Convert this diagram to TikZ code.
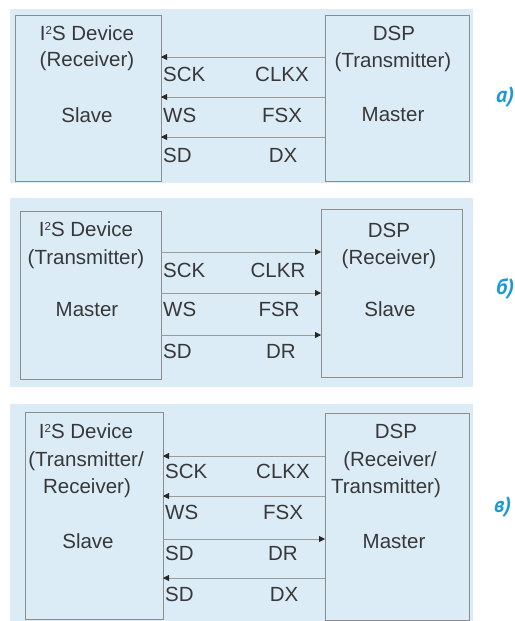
\documentclass[tikz,border=0pt]{standalone}
\usepackage{fontspec}
\setmainfont{Liberation Sans}
\newfontfamily\labfont{PT Sans}
\usetikzlibrary{arrows.meta}
\definecolor{panelbg}{HTML}{DBECF7}
\definecolor{boxline}{HTML}{8C8C8C}
\definecolor{sigline}{HTML}{9A9A9A}
\definecolor{txt}{HTML}{383838}
\definecolor{labblue}{HTML}{1B9AD6}
\newcommand{\suptwo}{\raisebox{5.2pt}{\fontsize{11.5}{12}\selectfont 2}}
\tikzset{
  panel/.style={fill=panelbg, draw=none},
  devbox/.style={draw=boxline, line width=0.9pt, fill=panelbg, inner sep=0pt, outer sep=0pt, anchor=north west},
  t/.style={text=txt, font=\fontsize{20.5}{24}\selectfont, inner sep=0pt, anchor=base},
  tl/.style={t, anchor=base west},
  sig/.style={draw=sigline, line width=0.8pt, -{Triangle[length=6pt,width=6pt,color=black!85]}},
  lab/.style={text=labblue, font=\labfont\bfseries\itshape\fontsize{22}{24}\selectfont, inner sep=0pt, anchor=base west}
}
\begin{document}
\begin{tikzpicture}[x=1pt,y=-1pt]
\useasboundingbox (0,0) rectangle (514,621);
% panels
\fill[panel] (10,9) rectangle (473,183);
\fill[panel] (10,198) rectangle (473,387);
\fill[panel] (10,404) rectangle (473,621);

% ---------- panel a ----------
\node[devbox, minimum width=146pt, minimum height=166pt] (aL) at (15,15) {};
\node[devbox, minimum width=144pt, minimum height=166pt] (aR) at (325,15) {};
\node[t] (aL1) at (87,40) {I\suptwo S Device};
\node[t] (aL2) at (87,66) {(Receiver)};
\node[t] (aL3) at (87,122) {Slave};
\node[t] (aR1) at (394,40) {DSP};
\node[t] (aR2) at (393,67) {(Transmitter)};
\node[t] (aR3) at (393,121) {Master};
\coordinate (ay1) at (0,57);
\coordinate (ay2) at (0,97);
\coordinate (ay3) at (0,137);
\draw[sig] (aR.west |- ay1) -- (aL.east |- ay1);
\draw[sig] (aR.west |- ay2) -- (aL.east |- ay2);
\draw[sig] (aR.west |- ay3) -- (aL.east |- ay3);
\node[tl] (aS1) at (163,81) {SCK};
\node[t] (aD1) at (282,81) {CLKX};
\node[tl] (aS2) at (163,122) {WS};
\node[t] (aD2) at (282,122) {FSX};
\node[tl] (aS3) at (163,162) {SD};
\node[t] (aD3) at (283,162) {DX};
\node[lab] (alab) at (496,102) {а)};

% ---------- panel b ----------
\node[devbox, minimum width=141pt, minimum height=168pt] (bL) at (20,211) {};
\node[devbox, minimum width=141pt, minimum height=168pt] (bR) at (321,209) {};
\node[t] (bL1) at (86,236) {I\suptwo S Device};
\node[t] (bL2) at (86,264) {(Transmitter)};
\node[t] (bL3) at (87,316) {Master};
\node[t] (bR1) at (389,237) {DSP};
\node[t] (bR2) at (389,264) {(Receiver)};
\node[t] (bR3) at (390,316) {Slave};
\coordinate (by1) at (0,252);
\coordinate (by2) at (0,293);
\coordinate (by3) at (0,335);
\draw[sig] (bL.east |- by1) -- (bR.west |- by1);
\draw[sig] (bL.east |- by2) -- (bR.west |- by2);
\draw[sig] (bL.east |- by3) -- (bR.west |- by3);
\node[tl] (bS1) at (163,277) {SCK};
\node[t] (bD1) at (278,277) {CLKR};
\node[tl] (bS2) at (163,316) {WS};
\node[t] (bD2) at (279,316) {FSR};
\node[tl] (bS3) at (163,358) {SD};
\node[t] (bD3) at (281,358) {DR};
\node[lab] (blab) at (496,294) {б)};

% ---------- panel c ----------
\node[devbox, minimum width=138pt, minimum height=207pt] (cL) at (25,412) {};
\node[devbox, minimum width=144pt, minimum height=207pt] (cR) at (325,413) {};
\node[t] (cL1) at (86,438) {I\suptwo S Device};
\node[t] (cL2) at (86,466) {(Transmitter/};
\node[t] (cL3) at (87,493) {Receiver)};
\node[t] (cL4) at (88,548) {Slave};
\node[t] (cR1) at (396,438) {DSP};
\node[t] (cR2) at (390,466) {(Receiver/};
\node[t] (cR3) at (386,493) {Transmitter)};
\node[t] (cR4) at (394,548) {Master};
\coordinate (cy1) at (0,456);
\coordinate (cy2) at (0,496);
\coordinate (cy3) at (0,539);
\coordinate (cy4) at (0,578);
\draw[sig] (cR.west |- cy1) -- (cL.east |- cy1);
\draw[sig] (cR.west |- cy2) -- (cL.east |- cy2);
\draw[sig] (cL.east |- cy3) -- (cR.west |- cy3);
\draw[sig] (cR.west |- cy4) -- (cL.east |- cy4);
\node[tl] (cS1) at (165,478) {SCK};
\node[t] (cD1) at (283,478) {CLKX};
\node[tl] (cS2) at (165,519) {WS};
\node[t] (cD2) at (283,519) {FSX};
\node[tl] (cS3) at (165,560) {SD};
\node[t] (cD3) at (283,560) {DR};
\node[tl] (cS4) at (165,601) {SD};
\node[t] (cD4) at (284,601) {DX};
\node[lab] (clab) at (494,512) {в)};
\end{tikzpicture}
\end{document}
